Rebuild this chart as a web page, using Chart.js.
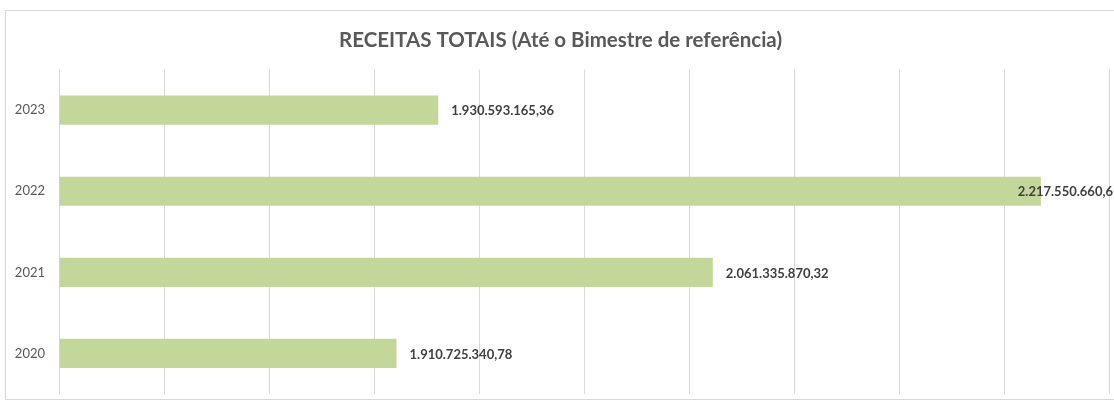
<!DOCTYPE html>
<html>
<head>
<meta charset="utf-8">
<script src="https://cdn.jsdelivr.net/npm/chart.js@4.4.0/dist/chart.umd.min.js"></script>
<style>
  html, body { margin: 0; padding: 0; background: #fff; }
  #wrap { width: 1114px; height: 403px; }
</style>
</head>
<body>
<div id="wrap"><canvas id="receitas_chart"></canvas></div>
<script>
var anos = ['2023', '2022', '2021', '2020'];
var receitas = [1930593165.36, 2217550660.6, 2061335870.32, 1910725340.78];
var eixoMin = 1750000000;
var eixoMax = 2250000000;
var eixoPasso = 50000000;

function fmtBR(v) {
    return v.toLocaleString('pt-BR', {minimumFractionDigits: 0, maximumFractionDigits: 2});
}

// moldura cinza em volta do grafico
var moldura = {
    id: 'moldura',
    beforeDraw: function(chart) {
        var ctx = chart.ctx;
        ctx.save();
        ctx.strokeStyle = '#d9d9d9';
        ctx.lineWidth = 1;
        ctx.strokeRect(5.5, 10.5, 1130, 389);
        ctx.restore();
    }
};

// rotulos de valor ao lado das barras
var rotulos = {
    id: 'rotulos',
    afterDatasetsDraw: function(chart) {
        var ctx = chart.ctx;
        var meta = chart.getDatasetMeta(0);
        ctx.save();
        ctx.font = 'bold 13px Lato';
        ctx.fillStyle = '#404040';
        ctx.textBaseline = 'middle';
        meta.data.forEach(function(bar, i) {
            var txt = fmtBR(receitas[i]);
            var w = ctx.measureText(txt).width;
            var x = bar.x + 13;
            if (x + w > chart.width) {
                ctx.textAlign = 'right';
                x = chart.width - 1;
            } else {
                ctx.textAlign = 'left';
            }
            ctx.fillText(txt, x, bar.y + 1);
        });
        ctx.restore();
    }
};

var ctx = document.getElementById('receitas_chart').getContext('2d');
new Chart(ctx, {
    type: 'bar',
    data: {
        labels: anos,
        datasets: [
            {
                data: receitas,
                backgroundColor: '#c4d79b',
                borderWidth: 0,
                categoryPercentage: 1,
                barPercentage: 0.36,
                base: eixoMin
            }
        ]
    },
    options: {
        indexAxis: 'y',
        responsive: true,
        maintainAspectRatio: false,
        animation: false,
        layout: {
            padding: {left: 12, right: 5, top: 0, bottom: 9}
        },
        plugins: {
            legend: {display: false},
            tooltip: {enabled: false},
            title: {
                display: true,
                text: 'RECEITAS TOTAIS (Até o Bimestre de referência)',
                color: '#595959',
                font: {family: 'Lato', size: 20.5, weight: 'bold'},
                padding: {top: 28, bottom: 17}
            }
        },
        scales: {
            x: {
                min: eixoMin,
                max: eixoMax,
                afterFit: function(scale) { scale.height = 0; },
                ticks: {display: false, stepSize: eixoPasso},
                grid: {color: '#d9d9d9', lineWidth: 1, drawTicks: false},
                border: {display: false}
            },
            y: {
                afterFit: function(scale) {
                    scale.width = 47;
                    scale.paddingTop = 0;
                    scale.paddingBottom = 0;
                },
                ticks: {
                    color: '#595959',
                    font: {family: 'Lato', size: 13},
                    padding: 14
                },
                grid: {display: false, drawTicks: false},
                border: {display: false}
            }
        }
    },
    plugins: [moldura, rotulos]
});
</script>
</body>
</html>
